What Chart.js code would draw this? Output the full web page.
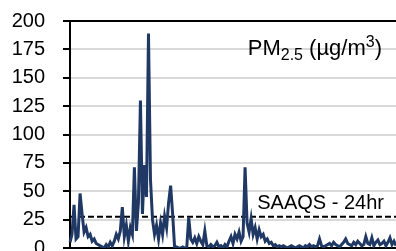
<!DOCTYPE html>
<html>
<head>
<meta charset="utf-8">
<script src="https://cdn.jsdelivr.net/npm/chart.js@4/dist/chart.umd.min.js"></script>
<style>
  html, body { margin: 0; padding: 0; overflow: hidden; background: #fff; }
  canvas { display: block; margin-top: -9px; }
</style>
</head>
<body>
<canvas id="pm-chart" width="396" height="287"></canvas>
<script>
// Data definitions
const pmValues = [
  5, 12, 38, 8, 10, 48, 30, 14, 18, 10, 12, 6, 8, 4, 3, 2, 1, 0, 3, 1,
  5, 2, 6, 12, 8, 15, 36, 10, 20, 6, 18, 12, 71, 15, 40, 130, 30, 73, 45, 189,
  60, 25, 12, 20, 8, 22, 12, 28, 18, 40, 55, 30, 0, 1, 0, 0, 1, 0, 0, 27,
  8, 5, 9, 4, 10, 6, 3, 15, 2, 1, 3, 1, 2, 5, 1, 2, 0, 3, 1, 6,
  10, 4, 12, 8, 14, 6, 10, 71, 22, 14, 26, 12, 18, 8, 16, 10, 12, 6, 8, 4,
  5, 2, 3, 1, 2, 1, 2, 1, 0, 1, 2, 1, 0, 1, 2, 1, 0, 2, 1, 3,
  1, 2, 1, 2, 8, 2, 1, 2, 3, 4, 2, 5, 3, 2, 1, 3, 5, 8, 4, 3,
  2, 5, 3, 6, 4, 2, 3, 10, 4, 3, 9, 2, 5, 7, 3, 4, 6, 2, 5, 9,
  3, 6, 2
];
const dayLabels = pmValues.map((v, i) => i + 1);
const saaqsLimit = 27.5;
const yTickStep = 25;
const yMax = 200;
const seriesLabel = 'PM';
const seriesSub = '2.5';
const seriesUnit = ' (\u00b5g/m';
const seriesSup = '3';
const limitLabel = 'SAAQS - 24hr';

const fontFamily = '"Liberation Sans", Arial, sans-serif';
Chart.defaults.font.family = fontFamily;
Chart.defaults.font.size = 20;
Chart.defaults.color = '#000';

// draws the two text labels inside the plot
const labelPlugin = {
  id: 'labels',
  afterDatasetsDraw(chart) {
    const ctx = chart.ctx;
    const area = chart.chartArea;
    const y = chart.scales.y;
    ctx.save();
    ctx.fillStyle = '#000';
    ctx.textBaseline = 'alphabetic';

    // PM2.5 (ug/m3) in the top right corner
    const big = '22px ' + fontFamily;
    const small = '16px ' + fontFamily;
    ctx.font = big;
    const w1 = ctx.measureText(seriesLabel).width;
    const w3 = ctx.measureText(seriesUnit).width;
    const w5 = ctx.measureText(')').width;
    ctx.font = small;
    const w2 = ctx.measureText(seriesSub).width;
    const w4 = ctx.measureText(seriesSup).width;
    let x = area.right - 14 - (w1 + w2 + w3 + w4 + w5);
    const base = area.top + 34;
    ctx.font = big;
    ctx.fillText(seriesLabel, x, base); x += w1;
    ctx.font = small;
    ctx.fillText(seriesSub, x, base + 5); x += w2;
    ctx.font = big;
    ctx.fillText(seriesUnit, x, base); x += w3;
    ctx.font = small;
    ctx.fillText(seriesSup, x, base - 8); x += w4;
    ctx.font = big;
    ctx.fillText(')', x, base);

    // limit label above the dashed line
    ctx.font = '20px ' + fontFamily;
    ctx.textAlign = 'right';
    ctx.fillText(limitLabel, area.right - 12, y.getPixelForValue(saaqsLimit) - 8);
    ctx.restore();
  }
};

const chartPm = new Chart(document.getElementById('pm-chart').getContext('2d'), {
  type: 'line',
  data: {
    labels: dayLabels,
    datasets: [{
      label: 'PM2.5',
      data: pmValues,
      borderColor: '#203864',
      borderWidth: 3,
      pointRadius: 0,
      tension: 0,
      fill: false
    }, {
      label: 'SAAQS',
      data: dayLabels.map(() => saaqsLimit),
      borderColor: '#000',
      borderWidth: 2,
      borderDash: [6, 3],
      pointRadius: 0,
      fill: false
    }]
  },
  options: {
    responsive: false,
    animation: false,
    layout: {
      padding: { top: 10, right: 0, bottom: 0, left: 0 }
    },
    plugins: {
      legend: { display: false },
      tooltip: { enabled: false }
    },
    scales: {
      x: {
        display: false,
        offset: false
      },
      y: {
        min: 0,
        max: yMax,
        afterFit: function(scale) { scale.width = 70; },
        ticks: {
          stepSize: yTickStep,
          padding: 18
        },
        border: { display: true, color: '#000', width: 2 },
        grid: {
          color: function(ctx) {
            return ctx.tick && (ctx.tick.value === 0 || ctx.tick.value === yMax) ? '#000' : '#d9d9d9';
          },
          lineWidth: 2,
          tickColor: '#000',
          tickLength: 7
        }
      }
    }
  },
  plugins: [labelPlugin]
});
</script>
</body>
</html>
